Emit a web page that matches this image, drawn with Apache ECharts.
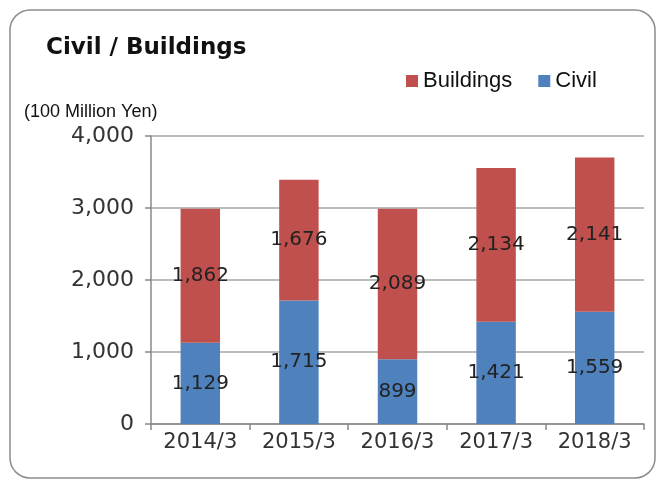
<!DOCTYPE html>
<html>
<head>
<meta charset="utf-8">
<script src="https://cdn.jsdelivr.net/npm/echarts@6/dist/echarts.min.js"></script>
<style>
  html, body { margin: 0; padding: 0; background: #fff; }
  #main { width: 659px; height: 483px; }
</style>
</head>
<body>
<div id="main"></div>
<script>
// values in 100 million yen
var categories = ['2014/3', '2015/3', '2016/3', '2017/3', '2018/3'];
var civil = [1129, 1715, 899, 1421, 1559];
var buildings = [1862, 1676, 2089, 2134, 2141];

var numFont = 'DejaVu Sans';

var chart = echarts.init(document.getElementById('main'));

function fmt(p) {
    return p.value.toLocaleString('en-US');
}

var option = {
    animation: false,
    title: [
        {
            text: 'Civil / Buildings',
            left: 46, top: 37, padding: 0,
            textStyle: { fontFamily: 'DejaVu Sans', fontWeight: 'bold', fontSize: 23, color: '#111' }
        },
        {
            text: '(100 Million Yen)',
            left: 24, top: 103, padding: 0,
            textStyle: { fontFamily: 'Liberation Sans', fontWeight: 'normal', fontSize: 18, color: '#111' }
        }
    ],
    legend: {
        data: ['Buildings', 'Civil'],
        left: 401, top: 65,
        icon: 'rect',
        itemWidth: 12, itemHeight: 12,
        itemGap: 26,
        textStyle: { fontFamily: 'Liberation Sans', fontSize: 22, color: '#111' }
    },
    grid: { left: 151, right: 15, top: 136, bottom: 59 },
    xAxis: {
        type: 'category',
        data: categories,
        axisLine: { lineStyle: { color: '#888', width: 1.5 } },
        axisTick: { show: true, length: 6, lineStyle: { color: '#888', width: 1.5 } },
        axisLabel: { fontFamily: numFont, fontSize: 21, color: '#333', margin: 8 }
    },
    yAxis: {
        type: 'value',
        min: 0, max: 4000, interval: 1000,
        axisLine: { show: true, lineStyle: { color: '#888', width: 1.5 } },
        axisTick: { show: true, length: 6, lineStyle: { color: '#888', width: 1.5 } },
        splitLine: { lineStyle: { color: '#a6a6a6', width: 1.5 } },
        axisLabel: {
            fontFamily: numFont, fontSize: 22, color: '#333', margin: 17,
            formatter: function (v) { return v.toLocaleString('en-US'); }
        }
    },
    series: [
        {
            name: 'Civil',
            type: 'bar',
            stack: 'total',
            data: civil,
            barWidth: '40%',
            itemStyle: { color: '#4F81BD' },
            label: {
                show: true, position: 'inside',
                fontFamily: numFont, fontSize: 20, color: '#222',
                formatter: fmt
            }
        },
        {
            name: 'Buildings',
            type: 'bar',
            stack: 'total',
            data: buildings,
            barWidth: '40%',
            itemStyle: { color: '#C0504D' },
            label: {
                show: true, position: 'inside',
                fontFamily: numFont, fontSize: 20, color: '#222',
                formatter: fmt
            }
        }
    ],
    graphic: [
        {
            type: 'rect',
            shape: { x: 10, y: 10, width: 645, height: 468, r: 20 },
            style: { fill: 'none', stroke: '#8c8c8c', lineWidth: 1.5 },
            z: -1
        }
    ]
};

chart.setOption(option);
</script>
</body>
</html>
